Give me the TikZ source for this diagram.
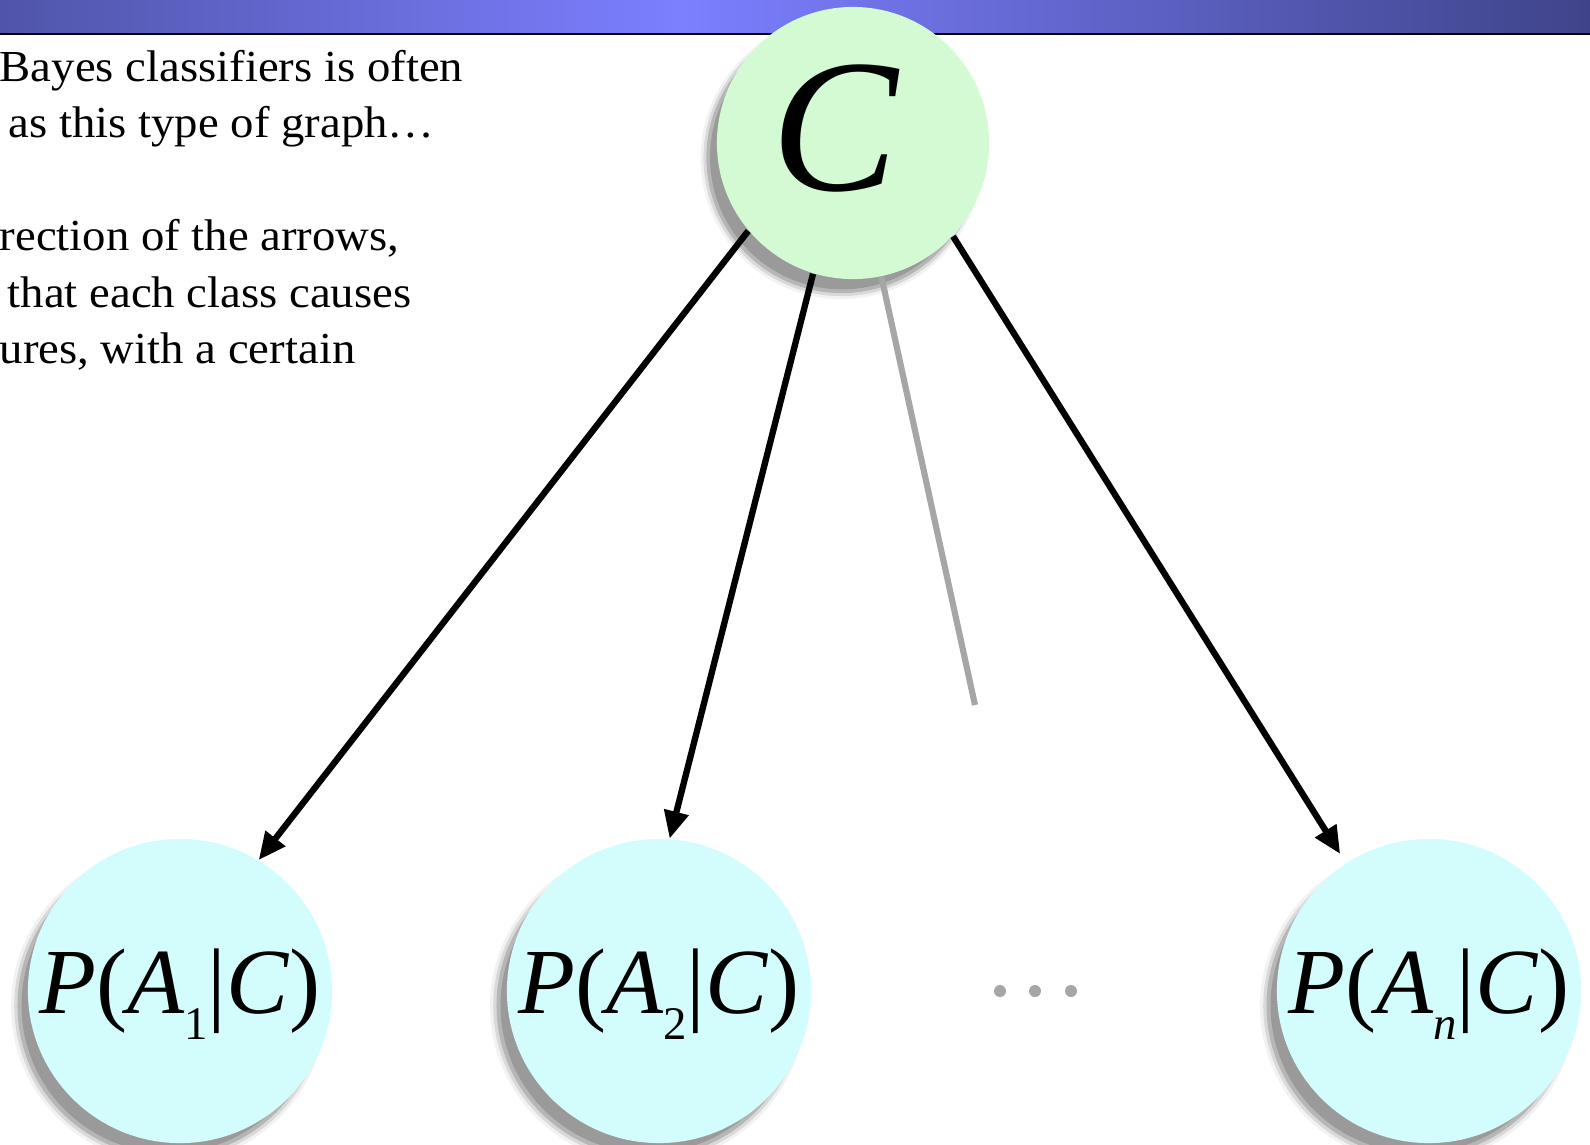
\documentclass[tikz,border=0pt]{standalone}
\usepackage{fontspec}
\setmainfont{Liberation Serif}
\newfontfamily\bodyfont[FakeStretch=1.055]{Liberation Serif}
\usetikzlibrary{arrows.meta,shadows}
\definecolor{barL}{HTML}{5055AA}
\definecolor{barM}{HTML}{7C7FFF}
\definecolor{barR}{HTML}{3F448A}
\definecolor{cgreen}{HTML}{D3FAD3}
\definecolor{acyan}{HTML}{D3FCFC}
\definecolor{lgray}{HTML}{A6A6A6}
\newcommand\palbl[1]{\textit{P}(\textit{A}\raisebox{-0.28em}[0pt][0pt]{\fontsize{13.3pt}{14pt}\selectfont #1}|\textit{C})}
\begin{document}
\begin{tikzpicture}[x=0.01cm,y=-0.01cm,
  softshadow/.style={
    drop shadow={shadow xshift=-3.2pt,shadow yshift=-4.2pt,shadow scale=0.97,opacity=0.16,fill=black},
    drop shadow={shadow xshift=-3.2pt,shadow yshift=-4.2pt,shadow scale=0.995,opacity=0.16,fill=black},
    drop shadow={shadow xshift=-3.2pt,shadow yshift=-4.2pt,shadow scale=1.015,opacity=0.1,fill=black},
    drop shadow={shadow xshift=-3.2pt,shadow yshift=-4.2pt,shadow scale=1.035,opacity=0.05,fill=black}},
  classnode/.style={circle,minimum size=2.72cm,inner sep=0pt,fill=cgreen,softshadow},
  attrnode/.style={circle,minimum size=3.04cm,inner sep=0pt,fill=acyan,softshadow,font=\fontsize{26.5pt}{28pt}\selectfont},
  body/.style={anchor=base west,inner sep=0pt,font=\bodyfont\fontsize{12.6pt}{16pt}\selectfont},
  edge/.style={line width=1.8pt,-{Triangle[length=7.8pt,width=6.8pt]}},
  faint/.style={line width=1.75pt,lgray}]
\useasboundingbox (0,0) rectangle (1590,1144);
\clip (0,0) rectangle (1590,1144);
% title bar
\shade[left color=barL,right color=barM] (0,0) rectangle (681,33);
\shade[left color=barM,right color=barR] (680,0) rectangle (1590,33);
\draw[line width=0.7pt] (0,34) -- (1590,34);
% text
\node[body] (t1) at (-1,81) {Bayes classifiers is often};
\node[body] (t2) at (8,137) {as this type of graph…};
\node[body] (t3) at (-1,250) {rection of the arrows,};
\node[body] (t4) at (7,307) {that each class causes};
\node[body] (t5) at (-1,363) {ures, with a certain};
% nodes
\node[classnode] (C) at (853,143) {};
\node[font=\fontsize{54pt}{54pt}\selectfont,inner sep=0pt] (Clbl) at (836,128) {\textit{C}};
\node[attrnode] (A1) at (180,991) {\palbl{1}};
\node[attrnode] (A2) at (659,991) {\palbl{2}};
\node[attrnode] (An) at (1429,991) {\palbl{\textit{n}}};
% connectors
\draw[edge] (C.220) -- (A1.59);
\draw[edge] (C.253) -- (A2.86);
\draw[edge,shorten >=3pt] (C.317) -- (An.123);
\coordinate (fade) at (975,705);
\draw[faint] (C.282) -- (fade);
% ellipsis
\foreach \x in {1000,1035,1071} \fill[lgray] (\x,991) circle[radius=6];
\end{tikzpicture}
\end{document}
